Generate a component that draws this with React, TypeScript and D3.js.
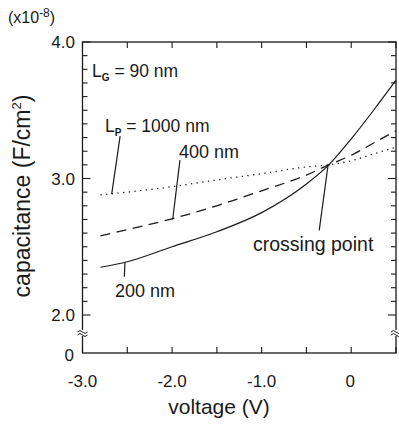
import React from "react";
import * as d3 from "d3";

const voltages = [-2.8, -2.5, -2.0, -1.5, -1.0, -0.5, -0.25, 0, 0.25, 0.5];
const cap1000 = [2.88, 2.9, 2.94, 2.99, 3.035, 3.085, 3.1, 3.13, 3.18, 3.23];
const cap400 = [2.58, 2.625, 2.705, 2.8, 2.91, 3.025, 3.1, 3.17, 3.26, 3.35];
const cap200 = [2.35, 2.39, 2.5, 2.61, 2.75, 2.96, 3.1, 3.29, 3.5, 3.72];

const xTickValues = [-3.0, -2.0, -1.0, 0];
const xTickLabels = ["-3.0", "-2.0", "-1.0", "0"];
const yTickValues = [2.0, 3.0, 4.0];
const yTickLabels = ["2.0", "3.0", "4.0"];

const W = 399;
const H = 424;
const LEFT = 82.5;
const RIGHT = 396;
const TOP = 42;
const BOTTOM = 353;
const FONT = "'Liberation Sans', Arial, Helvetica, sans-serif";
const INK = "#1a1a1a";

export default function App() {
  const x = d3.scaleLinear().domain([-3, 0.5]).range([LEFT, RIGHT]);
  const y = d3.scaleLinear().domain([2, 4]).range([315, TOP]);
  const line = d3
    .line<number>()
    .x((_, i) => x(voltages[i]))
    .y((d) => y(d))
    .curve(d3.curveMonotoneX);

  const minorY = d3.range(20, 41).map((v) => v / 10);
  const minorX = d3.range(-6, 2).map((v) => v / 2);
  const breakY = 333;

  const breakMark = (ax: number) => (
    <g>
      <rect x={ax - 5} y={breakY - 3} width={10} height={6} fill="white" />
      <path
        d={`M${ax - 5},${breakY - 1} q2.5,-3 5,0 t5,0`}
        fill="none"
        stroke={INK}
        strokeWidth={1}
      />
      <path
        d={`M${ax - 5},${breakY + 2} q2.5,-3 5,0 t5,0`}
        fill="none"
        stroke={INK}
        strokeWidth={1}
      />
    </g>
  );

  const leader = (x1: number, y1: number, x2: number, y2: number) => (
    <line
      x1={x(x1)}
      y1={y(y1)}
      x2={x(x2)}
      y2={y(y2)}
      stroke={INK}
      strokeWidth={1.2}
    />
  );

  return (
    <svg
      width={W}
      height={H}
      style={{ position: "absolute", left: 0, top: 0, background: "white" }}
      fontFamily={FONT}
    >
      {/* frame */}
      <rect
        x={LEFT}
        y={TOP}
        width={RIGHT - LEFT}
        height={BOTTOM - TOP}
        fill="none"
        stroke={INK}
        strokeWidth={1.3}
      />
      {/* y ticks */}
      {minorY.map((v, i) => {
        const major = Math.abs(v - Math.round(v)) < 1e-6;
        const len = major ? 8 : 5;
        return (
          <g key={"yt" + i}>
            <line x1={LEFT} x2={LEFT + len} y1={y(v)} y2={y(v)} stroke={INK} strokeWidth={1.1} />
            <line x1={RIGHT} x2={RIGHT - len} y1={y(v)} y2={y(v)} stroke={INK} strokeWidth={1.1} />
          </g>
        );
      })}
      {/* x ticks */}
      {minorX.map((v, i) => (
        <g key={"xt" + i}>
          <line x1={x(v)} x2={x(v)} y1={BOTTOM} y2={BOTTOM - 6} stroke={INK} strokeWidth={1.1} />
          <line x1={x(v)} x2={x(v)} y1={TOP} y2={TOP + 6} stroke={INK} strokeWidth={1.1} />
        </g>
      ))}
      {breakMark(LEFT)}
      {breakMark(RIGHT)}

      {/* tick labels */}
      {yTickValues.map((v, i) => (
        <text key={"yl" + i} x={75} y={y(v) + 6} textAnchor="end" fontSize={17} fill={INK}>
          {yTickLabels[i]}
        </text>
      ))}
      <text x={74} y={BOTTOM + 8} textAnchor="end" fontSize={17} fill={INK}>
        0
      </text>
      {xTickValues.map((v, i) => (
        <text key={"xl" + i} x={x(v) - (i === 3 ? 1 : 0)} y={387} textAnchor="middle" fontSize={17} fill={INK}>
          {xTickLabels[i]}
        </text>
      ))}
      <text x={8} y={23} fontSize={16} fill={INK}>
        (x10<tspan dy={-6} fontSize={12}>-8</tspan>
        <tspan dy={6}>)</tspan>
      </text>

      {/* axis titles */}
      <text x={219} y={414} textAnchor="middle" fontSize={21} fill={INK}>
        voltage (V)
      </text>
      <text
        transform={`translate(30,196) rotate(-90)`}
        textAnchor="middle"
        fontSize={23}
        fill={INK}
      >
        capacitance (F/cm<tspan dy={-9} fontSize={13}>2</tspan>
        <tspan dy={9}>)</tspan>
      </text>

      {/* curves */}
      <path d={line(cap1000) || ""} fill="none" stroke={INK} strokeWidth={1.3} strokeDasharray="1.3,4.4" />
      <path d={line(cap400) || ""} fill="none" stroke={INK} strokeWidth={1.3} strokeDasharray="10,6.5" />
      <path d={line(cap200) || ""} fill="none" stroke={INK} strokeWidth={1.2} />

      {/* leaders */}
      {leader(-2.58, 3.31, -2.674, 2.886)}
      {leader(-1.912, 3.135, -1.993, 2.7)}
      {leader(-2.526, 2.386, -2.533, 2.28)}
      {leader(-0.257, 3.106, -0.357, 2.62)}

      {/* annotations */}
      <text x={92} y={77} fontSize={17.5} fill={INK}>
        L<tspan dy={4} fontSize={10} fontWeight="bold">G</tspan>
        <tspan dy={-4}> = 90 nm</tspan>
      </text>
      <text x={105} y={132} fontSize={17.5} fill={INK}>
        L<tspan dy={4} fontSize={10} fontWeight="bold">P</tspan>
        <tspan dy={-4}> = 1000 nm</tspan>
      </text>
      <text x={179} y={158} fontSize={18} fill={INK}>
        400 nm
      </text>
      <text x={115} y={297} fontSize={18} fill={INK}>
        200 nm
      </text>
      <text x={253} y={251} fontSize={19.5} fill={INK}>
        crossing point
      </text>
    </svg>
  );
}
